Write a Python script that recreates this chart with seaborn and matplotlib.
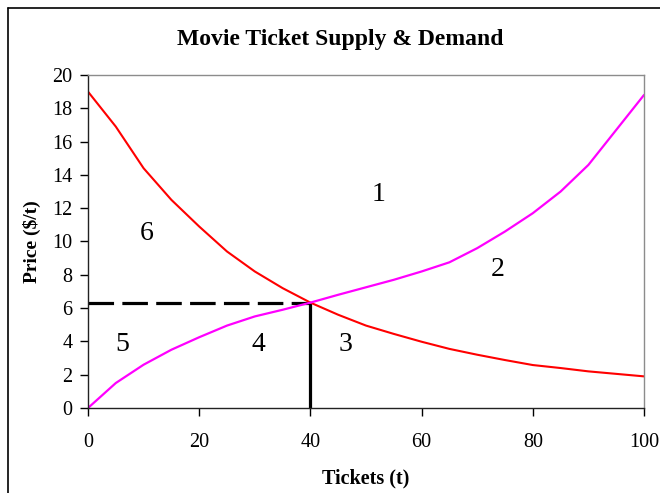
import matplotlib
matplotlib.use("Agg")
import matplotlib.pyplot as plt
from matplotlib.lines import Line2D
import pandas as pd
import seaborn as sns

# Quantity of tickets (t)
tickets = [0, 5, 10, 15, 20, 25, 30, 35, 40, 45, 50, 55, 60, 65, 70, 75, 80, 85, 90, 95, 100]
# Demand price ($/t)
demand = [19.0, 16.9, 14.4, 12.5, 10.9, 9.4, 8.2, 7.2, 6.33, 5.6, 4.95, 4.45, 3.98, 3.55, 3.2, 2.88, 2.58, 2.4, 2.2, 2.05, 1.9]
# Supply price ($/t)
supply = [0.0, 1.5, 2.6, 3.5, 4.25, 4.95, 5.5, 5.9, 6.33, 6.8, 7.25, 7.7, 8.2, 8.75, 9.6, 10.6, 11.7, 13.0, 14.6, 16.7, 18.8]

# Equilibrium point
eq_q = 40
eq_p = 6.33

# Region labels
region_labels = ["1", "2", "3", "4", "5", "6"]
region_x = [52.2, 73.7, 46.4, 30.6, 6.1, 10.6]
region_y = [12.8, 8.3, 3.8, 3.8, 3.8, 10.5]

x_ticks = [0, 20, 40, 60, 80, 100]
y_ticks = [0, 2, 4, 6, 8, 10, 12, 14, 16, 18, 20]

sns.set_style("white")
plt.rcParams["font.family"] = ["Liberation Serif", "DejaVu Serif"]
plt.rcParams["text.color"] = "black"
plt.rcParams["axes.labelcolor"] = "black"

df = pd.DataFrame({"Tickets": tickets, "Demand": demand, "Supply": supply})

fig = plt.figure(figsize=(6.6, 4.93), dpi=100)
ax = fig.add_axes([88 / 660, 1 - 408 / 493, (644 - 88) / 660, (408 - 75) / 493])

sns.lineplot(data=df, x="Tickets", y="Demand", color="#FF0000", linewidth=1.5, ax=ax)
sns.lineplot(data=df, x="Tickets", y="Supply", color="#FF00FF", linewidth=1.6, ax=ax)

# Equilibrium guides
ax.plot([0, eq_q], [eq_p, eq_p], color="black", linewidth=2.3,
        linestyle=(0, (8, 2.6)), solid_capstyle="butt", dash_capstyle="butt", zorder=1)
ax.plot([eq_q, eq_q], [0, eq_p], color="black", linewidth=2.3, zorder=1,
        solid_capstyle="butt")

for lbl, xx, yy in zip(region_labels, region_x, region_y):
    ax.text(xx, yy, lbl, fontsize=20, ha="center", va="center", color="black")

ax.set_xlim(0, 100)
ax.set_ylim(0, 20)
ax.set_xticks(x_ticks)
ax.set_yticks(y_ticks)
ax.tick_params(axis="both", direction="out", length=6, width=1, colors="black",
               labelsize=14.5, bottom=True, left=True)
ax.tick_params(axis="x", pad=12)
ax.tick_params(axis="y", pad=5)

for side in ["top", "right"]:
    ax.spines[side].set_color("#8c8c8c")
    ax.spines[side].set_linewidth(1.0)
for side in ["left", "bottom"]:
    ax.spines[side].set_color("#222222")
    ax.spines[side].set_linewidth(1.0)

ax.set_xlabel("Tickets (t)", fontsize=14.5, fontweight="bold", labelpad=12)
ax.set_ylabel("Price ($/t)", fontsize=14, fontweight="bold", labelpad=8)

# Chart title, centred over the whole chart area
fig.text(340 / 660, 1 - 40 / 493, "Movie Ticket Supply & Demand", fontsize=17,
         fontweight="bold", ha="center", va="center", color="black")

# Chart area frame
fx = 7.5 / 660
fy = 1 - 7.5 / 493
fig.add_artist(Line2D([fx, fx], [0, fy], transform=fig.transFigure, color="black", linewidth=1.2))
fig.add_artist(Line2D([fx, 1], [fy, fy], transform=fig.transFigure, color="black", linewidth=1.2))

fig.savefig("out.png", dpi=100, facecolor="white")
